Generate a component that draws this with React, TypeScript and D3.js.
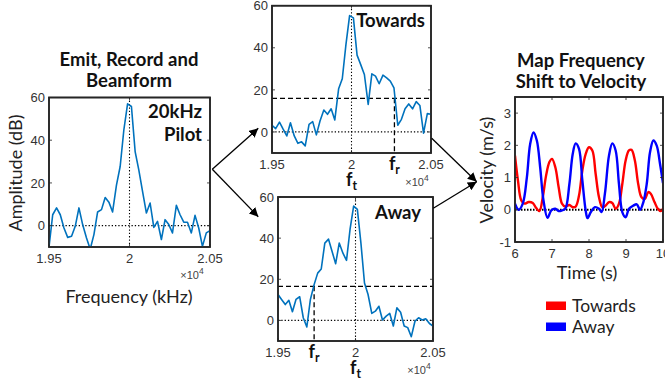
import * as d3 from 'd3'
import { useRef, useEffect } from 'react'

// shared FFT bins (Hz)
const freqBins = [
  19500, 19523, 19547, 19570, 19593, 19616, 19640, 19663, 19686, 19709, 19733,
  19756, 19779, 19802, 19826, 19849, 19872, 19895, 19919, 19942, 19965, 19988,
  20012, 20035, 20058, 20081, 20105, 20128, 20151, 20174, 20198, 20221, 20244,
  20267, 20291, 20314, 20337, 20360, 20384, 20407, 20430, 20453, 20477, 20500,
]

const pilotAmp = [
  -10, 5.1, 8.3, 5.1, -1.1, -5.5, -5, -0.3, 8.3, 0.5, -5.8, -11, -4.2, 6.4, 7.5,
  13.2, 11, 6.4, 19, 27.7, 44.9, 57, 55.8, 34.7, 26, 16, 5.9, 10.6, -0.8, 2, -6.5,
  2.8, 0.5, -3.4, 9.5, 5.1, 1.6, 1.6, -3.4, 4.8, -1.1, -9.7, -3.4, -2.3,
]

const towardsAmp = [
  3.2, 1.6, 4.7, 1.3, -1.9, 4.4, -1.9, -5.4, -4.7, -6.6, 3.6, 4.9, -1.4, 5.2, 10.4,
  8.4, 11, 5.7, 20.5, 25.3, 41.5, 55.3, 54.2, 36.5, 32, 27.3, 13.1, 27.6, 26.5,
  22.9, 27, 25.7, 24.2, 21, 3.2, 6, 11, 13.3, 11, 14.4, 12.6, -0.6, 8.7, 8.4,
]

const awayAmp = [
  12.6, 10.2, 7.7, 9.8, 4.2, 10.2, 11.5, 1.3, -3.2, 10.2, 17.4, 23, 25, 37.6, 39.5,
  33.5, 27.6, 37.6, 32.7, 29.2, 44.4, 55.6, 54, 37.6, 18.2, 12.6, 3.4, 4.5, 6.9,
  0.2, 2.1, 3.4, -2.7, 6.1, 4, -2.7, -3.5, -7.9, -0.3, 1.3, 0.2, 0.8, -1.5, -2.7,
]

const pilotFreq = 20000
const towardsShift = 20270
const towardsThresh = 16
const awayShift = 19733
const awayThresh = 16.6

const freqTicks = [19500, 20000, 20500]
const freqTickLabels = ['1.95', '2', '2.05']
const ampTicks = [0, 20, 40, 60]

const towardsTime = [
  6.0, 6.08, 6.17, 6.26, 6.37, 6.48, 6.57, 6.66, 6.75, 6.84, 6.93, 7.0, 7.09, 7.18,
  7.27, 7.36, 7.47, 7.56, 7.64, 7.73, 7.82, 7.91, 8.0, 8.09, 8.18, 8.27, 8.36, 8.45,
  8.54, 8.63, 8.72, 8.81, 8.9, 8.99, 9.08, 9.15, 9.24, 9.33, 9.42, 9.51, 9.6, 9.67,
  9.77, 9.86, 9.93, 10.0,
]
const towardsVel = [
  1.68, 0.91, 0.29, 0.19, 0.24, 0.21, 0.06, -0.04, 0.39, 1.06, 1.48, 1.58, 1.32, 0.7,
  0.19, 0.1, 0.15, 0.08, 0.1, 0.44, 1.22, 1.73, 1.94, 1.84, 1.11, 0.39, 0.08, 0.13,
  0.24, 0.21, 0.03, 0.19, 0.8, 1.53, 1.84, 1.86, 1.53, 0.8, 0.39, 0.34, 0.55, 0.5,
  0.24, 0.03, -0.04, 0.03,
]
const awayTime = [
  6.0, 6.1, 6.21, 6.32, 6.41, 6.5, 6.59, 6.68, 6.77, 6.88, 6.98, 7.09, 7.18, 7.27,
  7.36, 7.47, 7.56, 7.64, 7.73, 7.82, 7.91, 7.96, 8.05, 8.16, 8.27, 8.34, 8.43, 8.54,
  8.63, 8.72, 8.81, 8.9, 8.99, 9.08, 9.2, 9.29, 9.38, 9.47, 9.56, 9.65, 9.74, 9.83,
  9.92, 10.0,
]
const awayVel = [
  0.19, 0, 0.19, 1.0, 2.04, 2.4, 2.15, 1.32, 0.29, -0.25, -0.02, 0.03, -0.04, -0.02,
  0.03, 0.8, 1.73, 2.06, 1.89, 0.91, -0.02, -0.26, -0.07, 0.08, 0.03, -0.07, 0.5,
  1.68, 2.06, 1.84, 0.8, -0.07, -0.23, 0.03, 0.13, 0.17, 0, 0.24, 0.8, 1.79, 2.15,
  1.99, 1.42, 0.83,
]
const timeTicks = [6, 7, 8, 9, 10]
const velTicks = [-1, 0, 1, 2, 3]

const W = 665
const H = 381
const axisColor = '#262626'
const tickFont = '"Liberation Sans", Arial, sans-serif'
const labelFont = 'Lato, "Noto Sans", sans-serif'

function drawBox(g, x0, x1, y0, y1) {
  g.append('rect')
    .attr('x', x0)
    .attr('y', y0)
    .attr('width', x1 - x0)
    .attr('height', y1 - y0)
    .attr('fill', 'white')
    .attr('stroke', axisColor)
    .attr('stroke-width', 1.6)
}

function drawTicks(g, xScale, yScale, xTicks, yTicks, opts) {
  const [x0, x1] = xScale.range()
  const [y1, y0] = yScale.range()
  const tl = 3
  xTicks.forEach(t => {
    const x = xScale(t)
    g.append('line').attr('x1', x).attr('x2', x).attr('y1', y1).attr('y2', y1 - tl)
      .attr('stroke', axisColor).attr('stroke-width', 0.8)
    g.append('line').attr('x1', x).attr('x2', x).attr('y1', y0).attr('y2', y0 + tl)
      .attr('stroke', axisColor).attr('stroke-width', 0.8)
  })
  yTicks.forEach(t => {
    const y = yScale(t)
    g.append('line').attr('x1', x0).attr('x2', x0 + tl).attr('y1', y).attr('y2', y)
      .attr('stroke', axisColor).attr('stroke-width', 0.8)
    g.append('line').attr('x1', x1).attr('x2', x1 - tl).attr('y1', y).attr('y2', y)
      .attr('stroke', axisColor).attr('stroke-width', 0.8)
  })
  xTicks.forEach((t, i) => {
    g.append('text')
      .attr('x', xScale(t))
      .attr('y', y1 + opts.xLabelDy)
      .attr('text-anchor', 'middle')
      .attr('font-family', tickFont)
      .attr('font-size', opts.fs)
      .attr('fill', '#333')
      .text(opts.xLabels ? opts.xLabels[i] : String(t))
  })
  yTicks.forEach(t => {
    g.append('text')
      .attr('x', x0 - 4)
      .attr('y', yScale(t))
      .attr('dy', '0.36em')
      .attr('text-anchor', 'end')
      .attr('font-family', tickFont)
      .attr('font-size', opts.fs)
      .attr('fill', '#333')
      .text(String(t))
  })
}

function sub(g, x, y, main, s, fs) {
  const t = g.append('text')
    .attr('x', x)
    .attr('y', y)
    .attr('text-anchor', 'middle')
    .attr('font-family', labelFont)
    .attr('font-weight', 'bold')
    .attr('font-size', fs)
    .attr('fill', '#111')
  t.append('tspan').text(main)
  t.append('tspan').attr('dy', 4).attr('font-size', fs * 0.68).text(s)
}

function times10(g, x, y) {
  const t = g.append('text')
    .attr('x', x)
    .attr('y', y)
    .attr('text-anchor', 'middle')
    .attr('font-family', tickFont)
    .attr('font-size', 11)
    .attr('fill', '#444')
  t.append('tspan').text('\u00d710')
  t.append('tspan').attr('dy', -5).attr('font-size', 8.5).text('4')
}

function drawSpectrum(svg, id, box, amp, opts) {
  const g = svg.append('g')
  const x = d3.scaleLinear().domain([19500, 20500]).range([box.x0, box.x1])
  const y = d3.scaleLinear().domain([-10, 60]).range([box.y1, box.y0])
  drawBox(g, box.x0, box.x1, box.y0, box.y1)

  g.append('clipPath').attr('id', id).append('rect')
    .attr('x', box.x0).attr('y', box.y0)
    .attr('width', box.x1 - box.x0).attr('height', box.y1 - box.y0)

  const inner = g.append('g').attr('clip-path', `url(#${id})`)

  // reference lines
  inner.append('line')
    .attr('x1', box.x0).attr('x2', box.x1).attr('y1', y(0)).attr('y2', y(0))
    .attr('stroke', 'black').attr('stroke-width', 1.3).attr('stroke-dasharray', '1.3,2')
  inner.append('line')
    .attr('x1', x(pilotFreq)).attr('x2', x(pilotFreq)).attr('y1', box.y0).attr('y2', box.y1)
    .attr('stroke', 'black').attr('stroke-width', 1.1).attr('stroke-dasharray', '1.3,2')
  if (opts.thresh !== undefined) {
    inner.append('line')
      .attr('x1', box.x0).attr('x2', box.x1).attr('y1', y(opts.thresh)).attr('y2', y(opts.thresh))
      .attr('stroke', 'black').attr('stroke-width', 1.3).attr('stroke-dasharray', '5,3')
    inner.append('line')
      .attr('x1', x(opts.shift)).attr('x2', x(opts.shift)).attr('y1', y(opts.thresh)).attr('y2', box.y1)
      .attr('stroke', 'black').attr('stroke-width', 1.3).attr('stroke-dasharray', '5,3')
  }

  const line = d3.line().x((d, i) => x(freqBins[i])).y(d => y(d))
  inner.append('path')
    .attr('d', line(amp))
    .attr('fill', 'none')
    .attr('stroke', '#0072BD')
    .attr('stroke-width', 1.6)
    .attr('stroke-linejoin', 'round')

  // redraw box outline above the data
  g.append('rect')
    .attr('x', box.x0).attr('y', box.y0)
    .attr('width', box.x1 - box.x0).attr('height', box.y1 - box.y0)
    .attr('fill', 'none').attr('stroke', axisColor).attr('stroke-width', 1.6)

  drawTicks(g, x, y, freqTicks, ampTicks, { fs: 13, xLabelDy: 16, xLabels: freqTickLabels })

  if (opts.shift !== undefined) {
    sub(g, x(opts.shift), box.y1 + 17, 'f', 'r', 18)
  }
  if (opts.ft) {
    sub(g, x(pilotFreq), box.y1 + 33, 'f', 't', 18)
  }
  times10(g, box.x1 - opts.timesDx, box.y1 + opts.timesDy)

  opts.label.forEach((s, i) => {
    g.append('text')
      .attr('x', opts.labelX)
      .attr('y', opts.labelY + i * 22.5)
      .attr('text-anchor', 'end')
      .attr('font-family', labelFont)
      .attr('font-weight', 'bold')
      .attr('font-size', 18.5)
      .attr('fill', '#111')
      .text(s)
  })
  return { x, y }
}

const App = () => {
  const ref = useRef(null)

  useEffect(() => {
    const svg = d3.select(ref.current)
    svg.selectAll('*').remove()

    svg.append('defs').append('marker')
      .attr('id', 'arrow')
      .attr('viewBox', '0 0 10 10')
      .attr('refX', 10).attr('refY', 5)
      .attr('markerWidth', 9).attr('markerHeight', 9)
      .attr('markerUnits', 'userSpaceOnUse')
      .attr('orient', 'auto')
      .append('path').attr('d', 'M0,0 L10,5 L0,10 z').attr('fill', 'black')

    // left: pilot spectrum
    drawSpectrum(svg, 'clipPilot', { x0: 49, x1: 210, y0: 97.5, y1: 247 }, pilotAmp, {
      label: ['20kHz', 'Pilot'], labelX: 202, labelY: 118, timesDy: 32, timesDx: 18, ft: false,
    })
    // top middle: towards
    drawSpectrum(svg, 'clipTow', { x0: 272, x1: 431, y0: 5.7, y1: 153 }, towardsAmp, {
      label: ['Towards'], labelX: 425, labelY: 26.5, thresh: towardsThresh, shift: towardsShift,
      timesDy: 33, timesDx: 14, ft: true,
    })
    // bottom middle: away
    drawSpectrum(svg, 'clipAway', { x0: 278, x1: 433, y0: 197, y1: 341 }, awayAmp, {
      label: ['Away'], labelX: 421, labelY: 218.5, thresh: awayThresh, shift: awayShift,
      timesDy: 33, timesDx: 14, ft: true,
    })

    // titles and axis labels
    const txt = (x, y, s, fs, bold, rot) => {
      const t = svg.append('text')
        .attr('x', x).attr('y', y)
        .attr('text-anchor', 'middle')
        .attr('font-family', labelFont)
        .attr('font-weight', bold ? 'bold' : 'normal')
        .attr('font-size', fs)
        .attr('fill', bold ? '#111' : '#222')
        .text(s)
      if (rot) t.attr('transform', `rotate(-90, ${x}, ${y})`)
      return t
    }
    txt(129, 66, 'Emit, Record and', 18.5, true)
    txt(129, 86.5, 'Beamform', 18.5, true)
    txt(22, 173, 'Amplitude (dB)', 18, false, true)
    txt(129, 303, 'Frequency (kHz)', 18, false)

    txt(581, 67, 'Map Frequency', 18.5, true)
    txt(581, 87.5, 'Shift to Velocity', 18.5, true)
    txt(493, 170, 'Velocity (m/s)', 18, false, true)
    txt(587, 279, 'Time (s)', 18, false)

    // right: velocity plot
    const rg = svg.append('g')
    const bx = { x0: 515, x1: 663, y0: 97, y1: 242 }
    const tx = d3.scaleLinear().domain([6, 10]).range([bx.x0, bx.x1])
    const vy = d3.scaleLinear().domain([-1, 3.5]).range([bx.y1, bx.y0])
    drawBox(rg, bx.x0, bx.x1, bx.y0, bx.y1)
    rg.append('clipPath').attr('id', 'clipVel').append('rect')
      .attr('x', bx.x0).attr('y', bx.y0).attr('width', bx.x1 - bx.x0).attr('height', bx.y1 - bx.y0)
    const ri = rg.append('g').attr('clip-path', 'url(#clipVel)')
    ri.append('line')
      .attr('x1', bx.x0).attr('x2', bx.x1).attr('y1', vy(0)).attr('y2', vy(0))
      .attr('stroke', 'black').attr('stroke-width', 2).attr('stroke-dasharray', '1.5,1.5')
    const vline = ts => d3.line().curve(d3.curveCatmullRom.alpha(0.5))
      .x((d, i) => tx(ts[i])).y(d => vy(d))
    ri.append('path').attr('d', vline(towardsTime)(towardsVel))
      .attr('fill', 'none').attr('stroke', '#ff0000').attr('stroke-width', 2.4)
    ri.append('path').attr('d', vline(awayTime)(awayVel))
      .attr('fill', 'none').attr('stroke', '#0000ff').attr('stroke-width', 2.4)
    rg.append('rect')
      .attr('x', bx.x0).attr('y', bx.y0).attr('width', bx.x1 - bx.x0).attr('height', bx.y1 - bx.y0)
      .attr('fill', 'none').attr('stroke', axisColor).attr('stroke-width', 1.6)
    drawTicks(rg, tx, vy, timeTicks, velTicks, { fs: 13, xLabelDy: 16 })

    // legend
    const legend = [
      { name: 'Towards', color: '#ff0000' },
      { name: 'Away', color: '#0000ff' },
    ]
    legend.forEach((d, i) => {
      svg.append('rect')
        .attr('x', 546).attr('y', 301.5 + i * 21)
        .attr('width', 20).attr('height', 8.5)
        .attr('fill', d.color)
      svg.append('text')
        .attr('x', 572).attr('y', 312 + i * 21)
        .attr('font-family', labelFont)
        .attr('font-size', 17.5)
        .attr('fill', '#222')
        .text(d.name)
    })

    // flow arrows
    const arrows = [
      [212.3, 169.3, 258.3, 128.3],
      [212.3, 169.3, 258.3, 216.7],
      [431.7, 138.3, 476.7, 181.7],
      [433.3, 208.3, 476.7, 181.7],
    ]
    arrows.forEach(a => {
      svg.append('line')
        .attr('x1', a[0]).attr('y1', a[1]).attr('x2', a[2]).attr('y2', a[3])
        .attr('stroke', 'black').attr('stroke-width', 1.3)
        .attr('marker-end', 'url(#arrow)')
    })
  }, [])

  return (
    <svg
      ref={ref}
      width={W}
      height={H}
      style={{ position: 'absolute', left: 0, top: 0, background: 'white' }}
    ></svg>
  )
}

export default App
